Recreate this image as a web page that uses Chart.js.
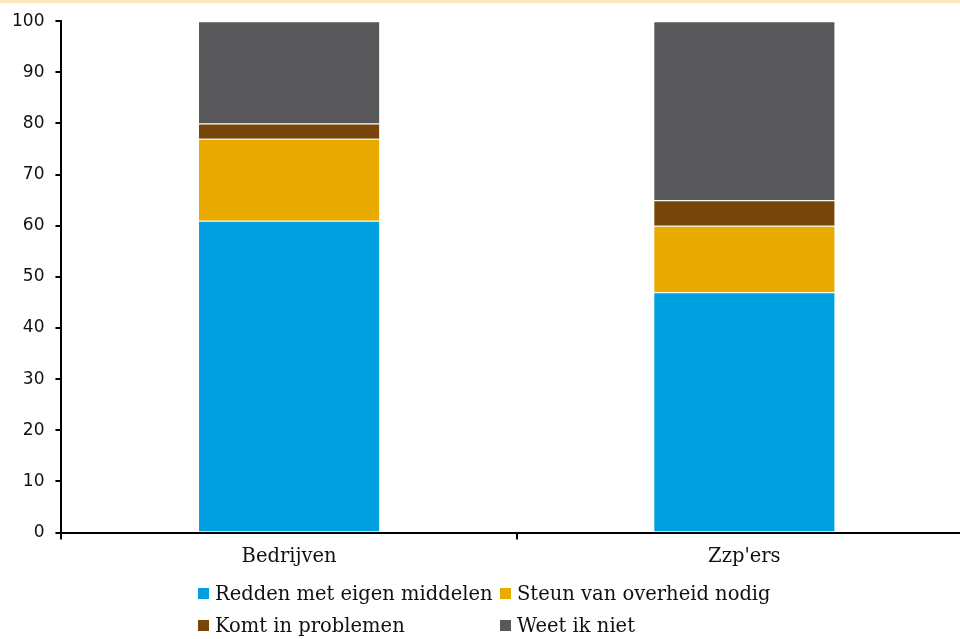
<!DOCTYPE html>
<html>
<head>
<meta charset="utf-8">
<script src="https://cdn.jsdelivr.net/npm/chart.js@4"></script>
<style>
    html, body { margin: 0; padding: 0; background: #fff; overflow: hidden; }
    #topband { position: absolute; left: 0; top: 0; width: 960px; height: 3px; background: #fde6bd; }
    #wrap { position: absolute; left: 0; top: 0; width: 972px; height: 639px; }
    #legend {
        position: absolute; left: 198px; top: 579px;
        display: grid; grid-template-columns: 302px 280px; grid-auto-rows: 32px;
        font-family: "DejaVu Serif", serif; font-size: 19.5px; color: #111;
    }
    .item { display: flex; align-items: center; white-space: nowrap; height: 28px; }
    .box { width: 11px; height: 11px; margin-right: 6px; flex: none; }
</style>
</head>
<body>
<div id="wrap"><canvas id="chart" width="972" height="639"></canvas></div>
<div id="topband"></div>
<div id="legend"></div>
<script>
const categories = ['Bedrijven', "Zzp'ers"];
const seriesLabels = ['Redden met eigen middelen', 'Steun van overheid nodig', 'Komt in problemen', 'Weet ik niet'];
const eigenMiddelen = [61, 47];
const steunOverheid = [16, 13];
const problemen = [3, 5];
const weetNiet = [20, 35];
const yTicks = [0, 10, 20, 30, 40, 50, 60, 70, 80, 90, 100];

const COLORS = ['#009fe0', '#e9ab00', '#76460a', '#58585a'];
const seriesData = [eigenMiddelen, steunOverheid, problemen, weetNiet];

const ctx = document.getElementById('chart').getContext('2d');

new Chart(ctx, {
    type: 'bar',
    data: {
        labels: categories,
        datasets: seriesLabels.map((label, i) => ({
            label: label,
            data: seriesData[i],
            backgroundColor: COLORS[i],
            borderColor: 'rgba(255,255,255,0.15)',
            borderWidth: 1,
            categoryPercentage: 1,
            barPercentage: 0.4
        }))
    },
    options: {
        responsive: false,
        animation: false,
        layout: { padding: { left: 1, top: 19, right: 0, bottom: 64 } },
        plugins: {
            legend: { display: false },
            tooltip: { enabled: false }
        },
        scales: {
            x: {
                stacked: true,
                offset: true,
                grid: { offset: true, drawOnChartArea: false, drawTicks: true, tickLength: 7, color: '#000', lineWidth: 2 },
                border: { color: '#000', width: 2 },
                ticks: { color: '#111', font: { family: 'DejaVu Serif', size: 19.5 }, padding: 6 }
            },
            y: {
                stacked: true,
                min: 0,
                max: 100,
                afterBuildTicks: axis => { axis.ticks = yTicks.map(v => ({ value: v })); },
                grid: { drawOnChartArea: false, drawTicks: true, tickLength: 6, color: '#000', lineWidth: 2 },
                border: { color: '#000', width: 2 },
                ticks: { color: '#111', font: { family: 'DejaVu Sans', size: 17 }, padding: 11 }
            }
        }
    }
});

const legendEl = document.getElementById('legend');
seriesLabels.forEach((label, i) => {
    const item = document.createElement('div');
    item.className = 'item';
    const box = document.createElement('span');
    box.className = 'box';
    box.style.background = COLORS[i];
    const text = document.createElement('span');
    text.textContent = label;
    item.appendChild(box);
    item.appendChild(text);
    legendEl.appendChild(item);
});
</script>
</body>
</html>
